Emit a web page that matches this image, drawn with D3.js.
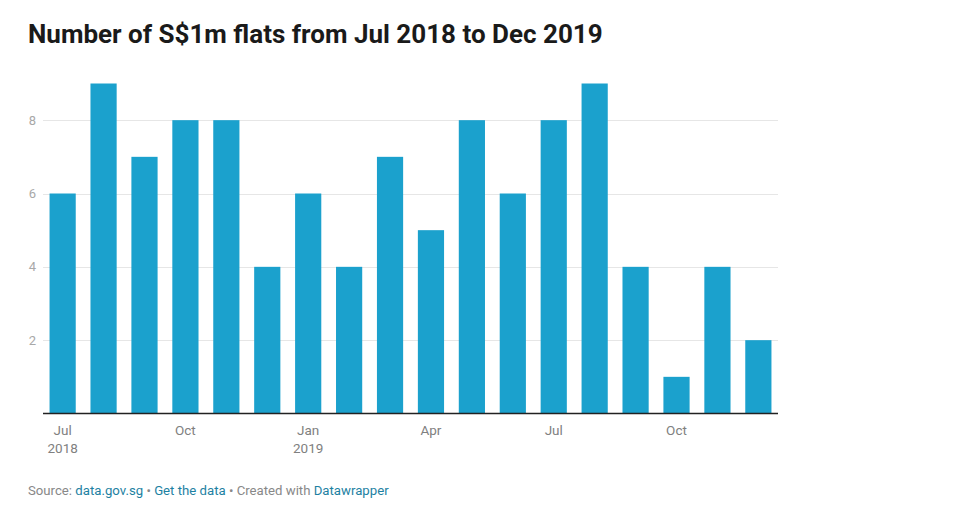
<!DOCTYPE html>
<html lang="en">
<head>
<meta charset="UTF-8">
<title>Number of S$1m flats</title>
<script src="https://d3js.org/d3.v7.min.js"></script>
<style>
  body { margin: 0; background: #fff; font-family: Roboto, "Open Sans", sans-serif; }
</style>
</head>
<body>
<svg id="chart" width="963" height="514"></svg>
<script>
// data
var months = ["2018-07","2018-08","2018-09","2018-10","2018-11","2018-12",
              "2019-01","2019-02","2019-03","2019-04","2019-05","2019-06",
              "2019-07","2019-08","2019-09","2019-10","2019-11","2019-12"];
var flats = [6, 9, 7, 8, 8, 4, 6, 4, 7, 5, 8, 6, 8, 9, 4, 1, 4, 2];
var yTicks = [2, 4, 6, 8];
// which months get a label, and what it says
var xLabels = {
  "2018-07": ["Jul", "2018"],
  "2018-10": ["Oct"],
  "2019-01": ["Jan", "2019"],
  "2019-04": ["Apr"],
  "2019-07": ["Jul"],
  "2019-10": ["Oct"]
};

var svg = d3.select("#chart");

svg.append("text")
  .attr("x", 28).attr("y", 43)
  .style("font-size", "26px").style("font-weight", "bold")
  .style("fill", "#1a1a1a")
  .text("Number of S$1m flats from Jul 2018 to Dec 2019");

var x = d3.scaleBand()
  .domain(months)
  .range([43, 778])
  .paddingInner(0.36)
  .paddingOuter(0.16);

var y = d3.scaleLinear()
  .domain([0, 9])
  .range([413.5, 83.5]);

// grid
svg.selectAll(".grid")
  .data(yTicks)
  .enter().append("line")
    .attr("x1", 43).attr("x2", 778)
    .attr("y1", function(d) { return Math.round(y(d)) + 0.5; })
    .attr("y2", function(d) { return Math.round(y(d)) + 0.5; })
    .style("stroke", "#e6e6e6");

svg.selectAll(".ytick")
  .data(yTicks)
  .enter().append("text")
    .attr("x", 36)
    .attr("y", function(d) { return y(d); })
    .attr("dy", "0.35em")
    .attr("text-anchor", "end")
    .style("font-size", "13px")
    .style("fill", "#a8a8a8")
    .text(function(d) { return d; });

// bars
svg.selectAll(".bar")
  .data(flats)
  .enter().append("rect")
    .attr("x", function(d, i) { return x(months[i]); })
    .attr("width", x.bandwidth())
    .attr("y", function(d) { return y(d); })
    .attr("height", function(d) { return y(0) - y(d); })
    .style("fill", "#1ba1cd");

// baseline
svg.append("line")
  .attr("x1", 43).attr("x2", 778)
  .attr("y1", 413.5).attr("y2", 413.5)
  .style("stroke", "#222").style("stroke-width", 1.3);

// x labels
var lab = svg.selectAll(".xlab")
  .data(months.filter(function(m) { return xLabels[m]; }))
  .enter().append("text")
    .attr("text-anchor", "middle")
    .style("font-size", "13.5px")
    .style("fill", "#808080");

lab.selectAll("tspan")
  .data(function(m) { return xLabels[m].map(function(t) { return [m, t]; }); })
  .enter().append("tspan")
    .attr("x", function(d) { return x(d[0]) + x.bandwidth() / 2; })
    .attr("y", function(d, i) { return 435 + i * 18; })
    .text(function(d) { return d[1]; });

// footer
var foot = svg.append("text")
  .attr("x", 28).attr("y", 495)
  .style("font-size", "13.2px")
  .style("fill", "#888");
foot.append("tspan").text("Source: ");
foot.append("tspan").style("fill", "#1d81a2").text("data.gov.sg");
foot.append("tspan").text(" \u2022 ");
foot.append("tspan").style("fill", "#1d81a2").text("Get the data");
foot.append("tspan").text(" \u2022 Created with ");
foot.append("tspan").style("fill", "#1d81a2").text("Datawrapper");
</script>
</body>
</html>
